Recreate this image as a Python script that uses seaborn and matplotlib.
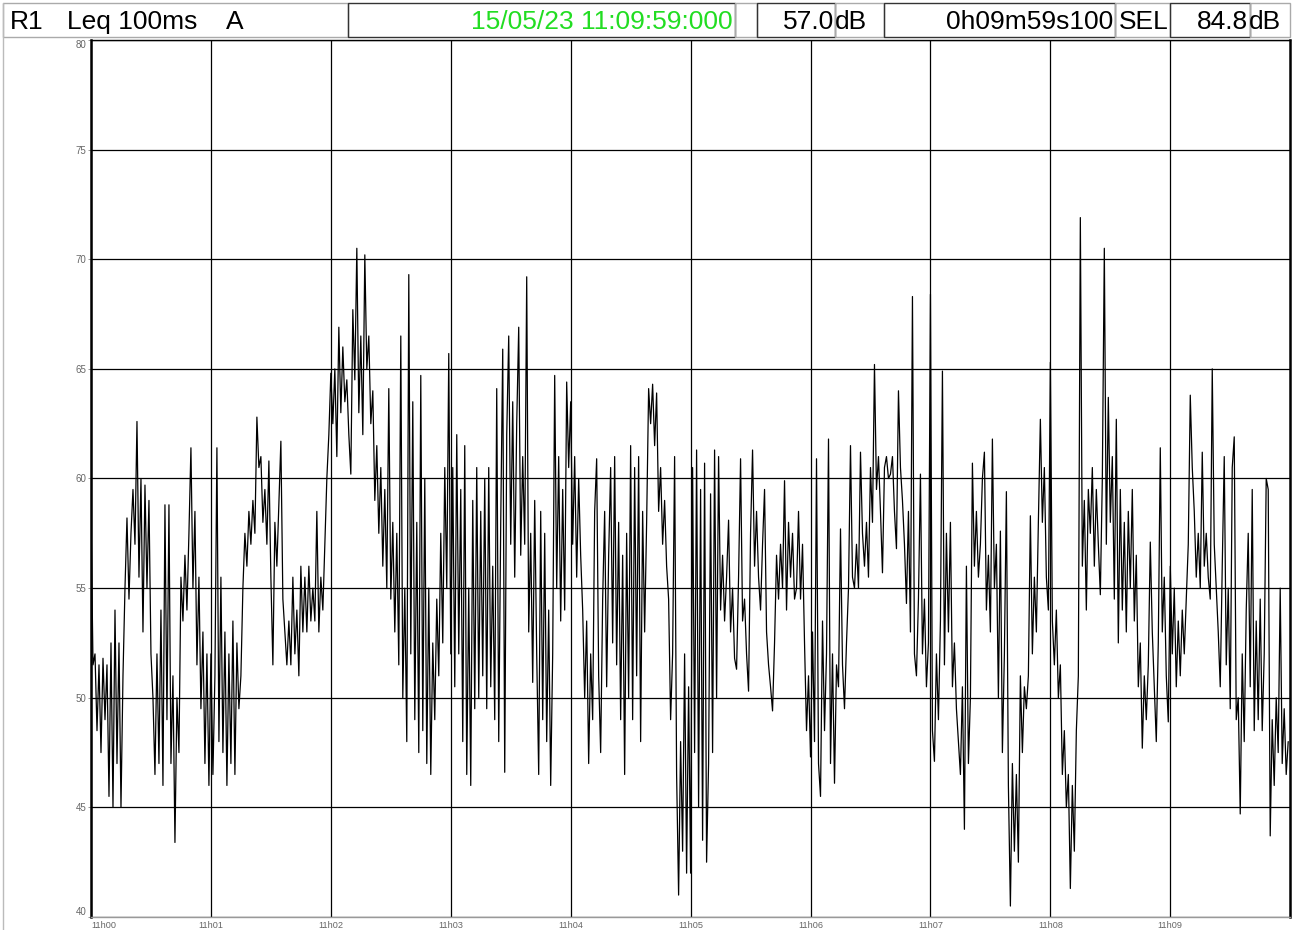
import numpy as np
import pandas as pd
import matplotlib
matplotlib.use("Agg")
import matplotlib.pyplot as plt
from matplotlib.patches import Rectangle
import seaborn as sns

# ---- data: Leq 100ms (A), one reading per second, per minute ----
min0 = [58.4, 51.5, 52.0, 48.5, 51.5, 47.5, 51.8, 49.0, 51.5, 45.5,
        52.5, 45.0, 54.0, 47.0, 52.5, 45.0, 51.0, 55.0, 58.2, 54.5,
        57.5, 59.5, 57.0, 62.6, 55.5, 60.0, 53.0, 59.7, 55.0, 59.0,
        52.0, 50.0, 46.5, 52.0, 47.0, 54.0, 46.0, 58.8, 49.0, 58.8,
        47.0, 51.0, 43.4, 50.0, 47.5, 55.5, 53.5, 56.5, 54.0, 57.5,
        61.4, 55.0, 58.5, 51.5, 55.5, 49.5, 53.0, 47.0, 52.0, 46.0]
min1 = [52.0, 46.5, 51.0, 61.4, 48.0, 55.5, 47.5, 53.0, 46.0, 52.0,
        47.0, 53.5, 46.5, 52.5, 49.5, 51.0, 55.0, 57.5, 56.0, 58.5,
        57.0, 59.0, 57.5, 62.8, 60.5, 61.0, 58.0, 59.5, 57.0, 60.8,
        55.5, 51.5, 58.0, 56.0, 58.8, 61.7, 54.5, 53.0, 51.5, 53.5,
        51.5, 55.5, 52.0, 54.0, 51.0, 56.0, 53.0, 55.5, 53.0, 56.0,
        53.5, 55.0, 53.5, 58.5, 53.0, 55.5, 54.0, 57.0, 60.0, 62.0]
min2 = [64.8, 62.5, 65.0, 61.0, 66.9, 63.0, 66.0, 63.5, 64.5, 62.0,
        60.2, 67.7, 64.5, 70.5, 63.0, 66.5, 62.0, 70.2, 65.0, 66.5,
        62.5, 64.0, 59.0, 61.5, 57.5, 60.5, 56.0, 59.5, 55.0, 64.1,
        54.5, 58.0, 53.0, 57.5, 51.5, 66.5, 50.0, 55.0, 48.0, 69.3,
        52.0, 63.5, 49.0, 58.0, 47.5, 64.7, 48.5, 60.0, 47.0, 55.0,
        46.5, 52.5, 49.0, 54.5, 51.0, 57.5, 52.5, 60.5, 55.0, 65.7]
min3 = [52.0, 60.5, 50.5, 62.0, 52.0, 59.5, 48.0, 61.5, 46.5, 55.0,
        46.0, 59.0, 49.5, 60.5, 50.0, 58.5, 51.0, 60.0, 49.5, 60.5,
        50.5, 56.0, 49.0, 64.1, 48.0, 58.0, 65.9, 46.6, 62.0, 66.5,
        57.0, 63.5, 55.5, 62.5, 66.9, 56.5, 61.0, 57.0, 69.2, 53.0,
        57.5, 50.7, 59.0, 52.0, 46.5, 58.5, 49.0, 57.5, 48.0, 54.0,
        46.0, 52.0, 64.7, 55.0, 61.0, 53.5, 59.5, 54.0, 64.4, 60.5]
min4 = [63.5, 57.0, 61.0, 55.5, 60.0, 56.5, 54.0, 50.0, 53.5, 47.0,
        52.0, 49.0, 58.5, 60.9, 51.0, 47.5, 54.5, 58.5, 50.5, 56.5,
        60.5, 52.5, 61.0, 51.5, 58.0, 49.0, 56.5, 46.5, 57.5, 50.0,
        61.5, 49.0, 60.5, 51.0, 61.0, 48.0, 58.5, 53.0, 58.0, 64.1,
        62.5, 64.3, 61.5, 63.9, 58.5, 60.5, 57.0, 59.0, 56.0, 54.5,
        49.0, 52.0, 61.0, 46.5, 41.0, 48.0, 43.0, 52.0, 42.0, 50.5]
min5 = [42.0, 60.5, 47.5, 61.3, 45.0, 59.5, 43.5, 60.7, 42.5, 47.0,
        59.3, 47.5, 61.3, 50.0, 61.0, 54.0, 56.5, 53.5, 55.5, 58.1,
        53.0, 55.0, 51.8, 51.3, 55.5, 60.9, 53.5, 54.5, 52.0, 50.3,
        57.5, 61.3, 56.0, 58.5, 55.5, 54.0, 57.0, 59.5, 53.0, 51.5,
        50.5, 49.4, 52.5, 56.5, 54.5, 57.0, 55.0, 59.9, 54.0, 58.0,
        55.5, 57.5, 54.5, 55.0, 58.5, 54.5, 57.0, 52.5, 48.5, 51.0]
min6 = [47.3, 53.0, 48.0, 60.9, 47.0, 45.5, 53.5, 48.5, 52.0, 61.8,
        47.0, 52.0, 46.1, 51.5, 50.5, 57.7, 51.5, 49.5, 52.5, 55.0,
        61.5, 55.5, 55.0, 57.0, 55.0, 61.2, 57.5, 56.0, 58.0, 55.5,
        60.5, 58.0, 65.2, 59.5, 61.0, 58.5, 55.7, 60.5, 61.0, 60.0,
        60.2, 61.0, 58.5, 56.8, 64.0, 60.5, 59.0, 57.0, 54.3, 58.5,
        53.0, 68.3, 52.0, 51.0, 54.5, 60.2, 52.0, 54.5, 50.5, 52.5]
min7 = [68.4, 48.5, 47.1, 52.0, 49.0, 53.5, 64.9, 51.5, 57.5, 53.0,
        58.0, 50.5, 52.5, 49.5, 48.0, 46.5, 50.5, 44.0, 56.0, 47.0,
        50.0, 60.7, 56.0, 58.5, 55.5, 57.0, 60.0, 61.2, 54.0, 56.5,
        53.0, 61.8, 55.0, 57.0, 50.0, 57.6, 47.5, 52.0, 59.4, 46.0,
        40.5, 47.0, 43.0, 46.5, 42.5, 51.0, 47.5, 50.5, 49.5, 51.0,
        58.3, 52.0, 55.5, 53.0, 58.0, 62.7, 58.0, 60.5, 55.5, 54.0]
min8 = [65.3, 53.5, 51.5, 54.0, 50.0, 51.5, 46.5, 48.5, 45.0, 46.5,
        41.3, 46.0, 43.0, 48.5, 51.0, 71.9, 56.0, 59.0, 54.0, 59.5,
        57.5, 60.5, 56.0, 59.5, 57.0, 54.7, 60.0, 70.5, 57.0, 63.7,
        58.0, 61.0, 54.5, 62.7, 52.5, 59.5, 54.0, 58.0, 53.0, 58.5,
        55.0, 59.5, 53.5, 56.5, 50.5, 52.5, 47.7, 51.0, 49.0, 51.5,
        57.1, 53.0, 50.5, 48.0, 52.5, 61.4, 53.0, 55.5, 51.0, 48.9]
min9 = [56.0, 52.0, 55.0, 50.5, 53.5, 51.0, 54.0, 52.0, 54.5, 57.0,
        63.8, 60.5, 58.5, 55.5, 57.5, 55.0, 61.2, 56.0, 57.5, 55.5,
        54.5, 65.0, 57.0, 55.0, 53.0, 50.5, 56.0, 61.0, 51.5, 55.0,
        49.5, 60.5, 61.9, 49.0, 50.0, 44.7, 52.0, 48.0, 54.0, 57.5,
        50.5, 59.5, 48.5, 53.5, 49.0, 54.5, 48.5, 52.0, 60.0, 59.5,
        43.7, 49.0, 46.0, 50.0, 47.5, 55.0, 47.0, 49.5, 46.5, 48.0]

minute_labels = ["11h00", "11h01", "11h02", "11h03", "11h04",
                 "11h05", "11h06", "11h07", "11h08", "11h09"]
y_ticks = [40, 45, 50, 55, 60, 65, 70, 75, 80]

header_channel = "R1"
header_label = "Leq 100ms"
header_weight = "A"
header_datetime = "15/05/23 11:09:59:000"
header_value = "57.0"
header_duration = "0h09m59s100"
header_sel = "84.8"

# ---- build ----
leq = min0 + min1 + min2 + min3 + min4 + min5 + min6 + min7 + min8 + min9
df = pd.DataFrame({"sec": np.arange(len(leq)), "leq": leq})

sns.set_theme(style="white")
plt.rcParams["font.family"] = ["Liberation Sans", "DejaVu Sans"]

W, H = 1304, 930
fig = plt.figure(figsize=(W / 100, H / 100), dpi=100)
fig.patch.set_facecolor("white")

# main axes in pixel geometry
L, R, T, B = 91, 1290, 40, 917
ax = fig.add_axes([L / W, 1 - B / H, (R - L) / W, (B - T) / H])
sns.lineplot(data=df, x="sec", y="leq", ax=ax, color="black",
             linewidth=0.9, estimator=None)
ax.set_xlim(0, 599.9)
ax.set_ylim(40, 80)
ax.set_xlabel("")
ax.set_ylabel("")

ax.set_yticks(y_ticks)
ax.set_yticklabels([str(v) for v in y_ticks])
ax.set_xticks([60 * i for i in range(len(minute_labels))])
ax.set_xticklabels(minute_labels)
ax.tick_params(axis="both", labelsize=7, labelcolor="#666666",
               color="#888888", length=2, width=0.6, pad=1.5)
ax.tick_params(axis="y", left=True, direction="out")
ax.tick_params(axis="x", bottom=False, pad=0.6, labelsize=6.6)
for lab in ax.get_yticklabels():
    if lab.get_text() == "80":
        lab.set_verticalalignment("top")
    elif lab.get_text() == "40":
        lab.set_verticalalignment("bottom")
ax.get_xticklabels()[0].set_horizontalalignment("left")

ax.grid(True, color="black", linewidth=0.9)
ax.set_axisbelow(True)
for s in ["top", "right", "left"]:
    ax.spines[s].set_color("black")
ax.spines["left"].set_linewidth(1.8)
ax.spines["right"].set_linewidth(1.8)
ax.spines["top"].set_linewidth(1.0)
ax.spines["bottom"].set_color("#999999")
ax.spines["bottom"].set_linewidth(1.0)

# ---- header overlay (pixel coordinates) ----
hd = fig.add_axes([0, 0, 1, 1], zorder=5)
hd.set_xlim(0, W)
hd.set_ylim(H, 0)
hd.axis("off")
hd.patch.set_alpha(0)

# outer frame
hd.plot([3, 3], [3, 930], color="#bbbbbb", lw=1)

top, bot = 3, 37
boxes = [(3, 348, "#aaaaaa"), (348, 735, "#333333"), (735, 757, "#aaaaaa"),
         (757, 835, "#333333"), (835, 884, "#aaaaaa"), (884, 1115, "#333333"),
         (1115, 1170, "#aaaaaa"), (1170, 1250, "#333333"), (1250, 1290, "#aaaaaa")]
for x0, x1, c in boxes:
    hd.add_patch(Rectangle((x0, top), x1 - x0, bot - top, fill=False,
                           edgecolor=c, linewidth=1.0))

fs = 19
base = 29
hd.text(10, base, header_channel, fontsize=fs, color="black", va="baseline")
hd.text(67, base, header_label, fontsize=fs, color="black", va="baseline")
hd.text(226, base, header_weight, fontsize=fs, color="black", va="baseline")
hd.text(733, base, header_datetime, fontsize=fs, color="#22dd22",
        va="baseline", ha="right")
hd.text(834, base, header_value, fontsize=fs, color="black",
        va="baseline", ha="right")
hd.text(835, base, "dB", fontsize=fs, color="black", va="baseline")
hd.text(1113, base, header_duration, fontsize=fs, color="black",
        va="baseline", ha="right")
hd.text(1119, base, "SEL", fontsize=fs, color="black", va="baseline")
hd.text(1248, base, header_sel, fontsize=fs, color="black",
        va="baseline", ha="right")
hd.text(1249, base, "dB", fontsize=fs, color="black", va="baseline")

fig.savefig("out.png", dpi=100, facecolor="white")
